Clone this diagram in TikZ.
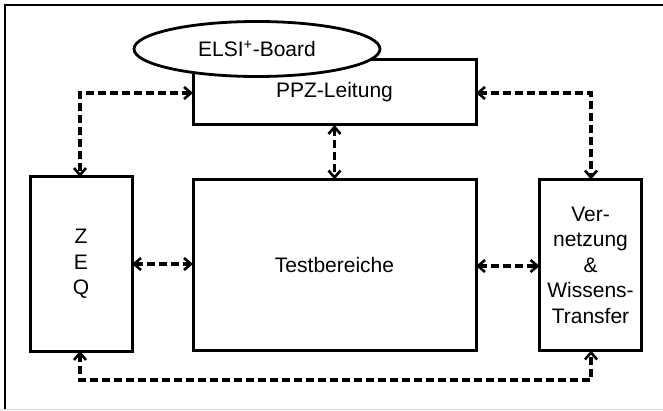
\documentclass[tikz,border=0pt]{standalone}
\usepackage{fontspec}
\setmainfont{Liberation Sans}
\usetikzlibrary{arrows.meta,shapes.geometric}
\begin{document}
\begin{tikzpicture}[x=1pt,y=-1pt,
  box/.style={draw=black,line width=3pt,rectangle,inner sep=0pt,outer sep=0pt,
    font=\fontsize{21}{25.5}\selectfont,align=center},
  conn/.style={line width=3.2pt,dash pattern=on 8pt off 4pt,
    {Straight Barb[length=7pt,width=12pt,line width=2.6pt]}-{Straight Barb[length=7pt,width=12pt,line width=2.6pt]}}]
\useasboundingbox (0,0) rectangle (663,411);
\draw[line width=1.8pt] (5,409) -- (5,5) -- (663,5);
\draw[line width=1.5pt,draw=black!15] (0,409.5) -- (663,409.5);
\node[box,minimum width=283pt,minimum height=65pt] (ppz) at (334.5,92.5) {PPZ-Leitung};
\node[ellipse,draw=black,fill=white,line width=2.8pt,inner sep=0pt,outer sep=0pt,
  minimum width=246pt,minimum height=55pt,font=\fontsize{21}{25.5}\selectfont] (elsi) at (257,49) {ELSI\textsuperscript{+}-Board};
\node[box,minimum width=102pt,minimum height=174pt] (zeq) at (81,264) {Z\\E\\Q};
\node[box,minimum width=283pt,minimum height=171pt] (test) at (334.5,265) {Testbereiche};
\node[box,minimum width=102pt,minimum height=171pt] (vern) at (590.5,265) {Ver-\\netzung\\\&\\Wissens-\\Transfer};
\coordinate (lc) at (80,93);
\coordinate (rc) at (591,93);
\coordinate (bl) at (80,380);
\coordinate (br) at (591,380);
\draw[conn] (ppz.west |- lc) -- (lc) -- (zeq.north -| lc);
\draw[conn] (ppz.east |- rc) -- (rc) -- (vern.north -| rc);
\draw[conn] (ppz.south) -- (test.north);
\draw[conn] (zeq.east |- 0,264) -- (test.west |- 0,264);
\draw[conn] (test.east |- 0,266) -- (vern.west |- 0,266);
\draw[conn] (zeq.south -| bl) -- (bl) -- (br) -- (vern.south -| br);
\end{tikzpicture}
\end{document}
